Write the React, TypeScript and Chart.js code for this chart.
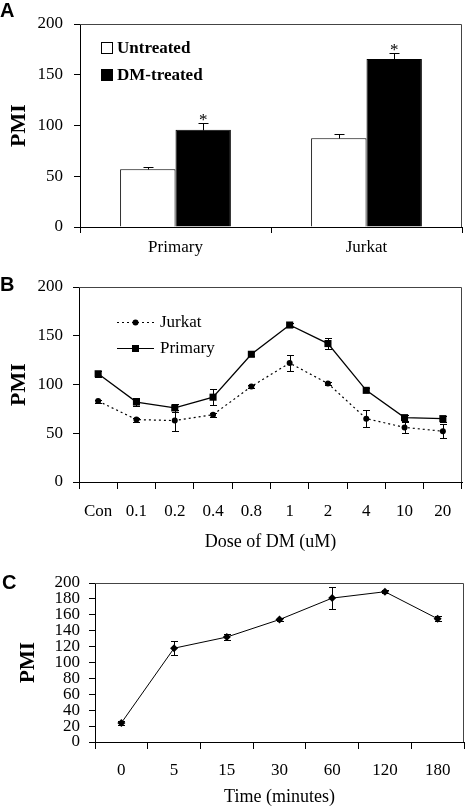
import React, { useEffect, useRef } from "react";
import { Chart, registerables } from "chart.js";

Chart.register(...registerables);

// ---------- Panel A data ----------
const groups = ["Primary", "Jurkat"];
const untreated = [57, 87.5];
const untreatedErr = [2.3, 4.6];
const dmTreated = [95.7, 165.5];
const dmTreatedErr = [7.2, 6];

// ---------- Panel B data ----------
const doses = ["Con", "0.1", "0.2", "0.4", "0.8", "1", "2", "4", "10", "20"];
const jurkat = [83, 64, 63, 69, 98, 122, 101, 65, 56, 52];
const jurkatErr = [1.5, 2, 10.5, 2, 2, 8.5, 2, 9, 5.5, 7];
const primary = [111, 82, 76, 87, 131, 161, 142, 94, 66, 65];
const primaryErr = [3, 4.5, 4, 8.5, 2, 2, 6, 2, 3, 3];

// ---------- Panel C data ----------
const times = ["0", "5", "15", "30", "60", "120", "180"];
const timePmi = [24, 118, 132, 154, 181, 189, 155];
const timeErr = [3, 9, 4, 2, 14, 2, 3];

const SERIF = "'Liberation Serif', 'Times New Roman', serif";
const SANS = "'Liberation Sans', Arial, sans-serif";

function framePlugin(id: string) {
  return {
    id,
    afterDraw(chart: any) {
      const { ctx, chartArea } = chart;
      ctx.save();
      ctx.strokeStyle = "#444";
      ctx.lineWidth = 1;
      ctx.beginPath();
      const t = Math.round(chartArea.top) + 0.5;
      const r = Math.round(chartArea.right) - 0.5;
      ctx.moveTo(chartArea.left, t);
      ctx.lineTo(r, t);
      ctx.lineTo(r, chartArea.bottom);
      ctx.stroke();
      ctx.restore();
    },
  };
}

function errorPlugin(id: string, errors: number[][], upOnly: boolean, cap: number) {
  return {
    id,
    afterDatasetsDraw(chart: any) {
      const { ctx } = chart;
      const yScale = chart.scales.y;
      ctx.save();
      ctx.strokeStyle = "#000";
      ctx.lineWidth = 1;
      errors.forEach((errs, di) => {
        const meta = chart.getDatasetMeta(di);
        const data = chart.data.datasets[di].data as number[];
        meta.data.forEach((el: any, i: number) => {
          const v = data[i];
          const e = errs[i];
          if (e == null) return;
          const x = Math.round(el.x) + 0.5;
          const yTop = Math.round(yScale.getPixelForValue(v + e)) + 0.5;
          const yBase = Math.round(yScale.getPixelForValue(upOnly ? v : v - e)) + 0.5;
          ctx.beginPath();
          ctx.moveTo(x, yBase);
          ctx.lineTo(x, yTop);
          ctx.moveTo(x - cap, yTop);
          ctx.lineTo(x + cap, yTop);
          if (!upOnly) {
            ctx.moveTo(x - cap, yBase);
            ctx.lineTo(x + cap, yBase);
          }
          ctx.stroke();
        });
      });
      ctx.restore();
    },
  };
}

const asteriskPlugin = {
  id: "asterisks",
  afterDatasetsDraw(chart: any) {
    const { ctx } = chart;
    const yScale = chart.scales.y;
    const meta = chart.getDatasetMeta(1);
    ctx.save();
    ctx.fillStyle = "#000";
    ctx.font = `17px ${SERIF}`;
    ctx.textAlign = "center";
    ctx.textBaseline = "alphabetic";
    meta.data.forEach((el: any, i: number) => {
      const y = yScale.getPixelForValue(dmTreated[i] + dmTreatedErr[i]);
      ctx.fillText("*", el.x, y + 2);
    });
    ctx.restore();
  },
};

const legendAPlugin = {
  id: "legendA",
  afterDraw(chart: any) {
    const { ctx } = chart;
    const items = [
      { label: "Untreated", fill: "#fff", y: 48 },
      { label: "DM-treated", fill: "#000", y: 75 },
    ];
    ctx.save();
    ctx.font = `bold 17px ${SERIF}`;
    ctx.textBaseline = "middle";
    ctx.textAlign = "left";
    items.forEach((it) => {
      ctx.fillStyle = it.fill;
      ctx.fillRect(101, it.y - 6, 12, 12);
      ctx.strokeStyle = "#000";
      ctx.lineWidth = 1;
      ctx.strokeRect(101.5, it.y - 5.5, 11, 11);
      ctx.fillStyle = "#000";
      ctx.fillText(it.label, 117, it.y + 1);
    });
    ctx.restore();
  },
};

const legendBPlugin = {
  id: "legendB",
  afterDraw(chart: any) {
    const { ctx } = chart;
    ctx.save();
    ctx.strokeStyle = "#000";
    ctx.fillStyle = "#000";
    ctx.lineWidth = 1.2;
    // Jurkat
    let y = 57.5;
    ctx.setLineDash([2, 3]);
    ctx.beginPath();
    ctx.moveTo(117, y);
    ctx.lineTo(154, y);
    ctx.stroke();
    ctx.setLineDash([]);
    ctx.beginPath();
    ctx.arc(135.5, y, 3, 0, Math.PI * 2);
    ctx.fill();
    // Primary
    y = 83.5;
    ctx.beginPath();
    ctx.moveTo(117, y);
    ctx.lineTo(154, y);
    ctx.stroke();
    ctx.fillRect(132, y - 3.5, 7, 7);
    ctx.font = `17px ${SERIF}`;
    ctx.textBaseline = "middle";
    ctx.textAlign = "left";
    ctx.fillText("Jurkat", 160, 58);
    ctx.fillText("Primary", 160, 84);
    ctx.restore();
  },
};

const tickFont = { family: SERIF, size: 17 };
const titleFont = { family: SERIF, size: 22, weight: "bold" as const };

export default function App() {
  const refA = useRef<HTMLCanvasElement | null>(null);
  const refB = useRef<HTMLCanvasElement | null>(null);
  const refC = useRef<HTMLCanvasElement | null>(null);

  useEffect(() => {
    const charts: Chart[] = [];

    charts.push(
      new Chart(refA.current as HTMLCanvasElement, {
        type: "bar",
        data: {
          labels: groups,
          datasets: [
            { label: "Untreated", data: untreated, backgroundColor: "#fff", borderColor: "#000", borderWidth: 1 },
            { label: "DM-treated", data: dmTreated, backgroundColor: "#000", borderColor: "#000", borderWidth: 1 },
          ],
        },
        options: {
          responsive: false,
          animation: false,
          layout: { padding: { top: 24, right: 13, left: 0, bottom: 0 } },
          plugins: { legend: { display: false }, tooltip: { enabled: false } },
          datasets: { bar: { categoryPercentage: 0.58, barPercentage: 1 } },
          scales: {
            x: {
              offset: true,
              grid: { offset: true, drawOnChartArea: false, tickLength: 6, color: "#000" },
              border: { color: "#000" },
              ticks: { font: tickFont, color: "#000", padding: 4, maxRotation: 0 },
              afterFit: (s: any) => { s.height = 38; },
            },
            y: {
              min: 0,
              max: 200,
              ticks: { stepSize: 50, font: tickFont, color: "#000", padding: 11 },
              grid: { drawOnChartArea: false, tickLength: 6, color: "#000" },
              border: { color: "#000" },
              title: { display: true, text: "PMI", font: titleFont, color: "#000", padding: { top: 6, bottom: 0 } },
              afterFit: (s: any) => { s.width = 80; },
            },
          },
        },
        plugins: [framePlugin("frameA"), errorPlugin("errA", [untreatedErr, dmTreatedErr], true, 5), asteriskPlugin, legendAPlugin],
      } as any)
    );

    charts.push(
      new Chart(refB.current as HTMLCanvasElement, {
        type: "line",
        data: {
          labels: doses,
          datasets: [
            {
              label: "Jurkat",
              data: jurkat,
              borderColor: "#000",
              backgroundColor: "#000",
              borderWidth: 1.2,
              borderDash: [2, 3],
              pointStyle: "circle",
              pointRadius: 3,
              pointBorderWidth: 0,
              tension: 0,
            },
            {
              label: "Primary",
              data: primary,
              borderColor: "#000",
              backgroundColor: "#000",
              borderWidth: 1.3,
              pointStyle: "rect",
              pointRadius: 5,
              pointBorderWidth: 0,
              tension: 0,
            },
          ],
        },
        options: {
          responsive: false,
          animation: false,
          layout: { padding: { top: 22, right: 13, left: 0, bottom: 0 } },
          plugins: { legend: { display: false }, tooltip: { enabled: false } },
          scales: {
            x: {
              offset: true,
              grid: { offset: true, drawOnChartArea: false, tickLength: 7, color: "#000" },
              border: { color: "#000" },
              ticks: { font: tickFont, color: "#000", padding: 12, maxRotation: 0, autoSkip: false },
              title: { display: true, text: "Dose of DM (uM)", font: { family: SERIF, size: 18 }, color: "#000", padding: { top: 0, bottom: 9 } },
              afterFit: (s: any) => { s.height = 80; },
            },
            y: {
              min: 0,
              max: 200,
              ticks: { stepSize: 50, font: tickFont, color: "#000", padding: 10 },
              grid: { drawOnChartArea: false, tickLength: 6, color: "#000" },
              border: { color: "#000" },
              title: { display: true, text: "PMI", font: titleFont, color: "#000", padding: { top: 6, bottom: 0 } },
              afterFit: (s: any) => { s.width = 79; },
            },
          },
        },
        plugins: [framePlugin("frameB"), errorPlugin("errB", [jurkatErr, primaryErr], false, 3.5), legendBPlugin],
      } as any)
    );

    charts.push(
      new Chart(refC.current as HTMLCanvasElement, {
        type: "line",
        data: {
          labels: times,
          datasets: [
            {
              label: "PMI",
              data: timePmi,
              borderColor: "#000",
              backgroundColor: "#000",
              borderWidth: 1,
              pointStyle: "rectRot",
              pointRadius: 4,
              pointBorderWidth: 0,
              tension: 0,
            },
          ],
        },
        options: {
          responsive: false,
          animation: false,
          layout: { padding: { top: 21, right: 11, left: 0, bottom: 0 } },
          plugins: { legend: { display: false }, tooltip: { enabled: false } },
          scales: {
            x: {
              offset: true,
              grid: { offset: true, drawOnChartArea: false, tickLength: 7, color: "#000" },
              border: { color: "#000" },
              ticks: { font: tickFont, color: "#000", padding: 11, maxRotation: 0, autoSkip: false },
              title: { display: true, text: "Time (minutes)", font: { family: SERIF, size: 18 }, color: "#000", padding: { top: 0, bottom: 0 } },
              afterFit: (s: any) => { s.height = 66; },
            },
            y: {
              min: 0,
              max: 200,
              ticks: { stepSize: 20, font: { family: SERIF, size: 17, lineHeight: 1 }, color: "#000", padding: 9, autoSkip: false },
              grid: { drawOnChartArea: false, tickLength: 6, color: "#000" },
              border: { color: "#000" },
              title: { display: true, text: "PMI", font: { family: SERIF, size: 21, weight: "bold" }, color: "#000", padding: { top: 16, bottom: 0 } },
              afterFit: (s: any) => { s.width = 95; },
            },
          },
        },
        plugins: [framePlugin("frameC"), errorPlugin("errC", [timeErr], false, 3.5)],
      } as any)
    );

    return () => {
      charts.forEach((c) => c.destroy());
    };
  }, []);

  const letter: React.CSSProperties = {
    position: "absolute",
    fontFamily: SANS,
    fontWeight: "bold",
    fontSize: 20,
    lineHeight: "20px",
    color: "#000",
    margin: 0,
  };

  return (
    <div style={{ position: "absolute", left: 0, top: 0, width: 475, height: 808, background: "#fff", overflow: "hidden" }}>
      <canvas ref={refA} width={475} height={265} style={{ position: "absolute", left: 0, top: 0 }} />
      <canvas ref={refB} width={475} height={297} style={{ position: "absolute", left: 0, top: 265 }} />
      <canvas ref={refC} width={475} height={246} style={{ position: "absolute", left: 0, top: 562 }} />
      <div style={{ ...letter, left: 0, top: 0 }}>A</div>
      <div style={{ ...letter, left: 0, top: 274 }}>B</div>
      <div style={{ ...letter, left: 2, top: 572 }}>C</div>
    </div>
  );
}
